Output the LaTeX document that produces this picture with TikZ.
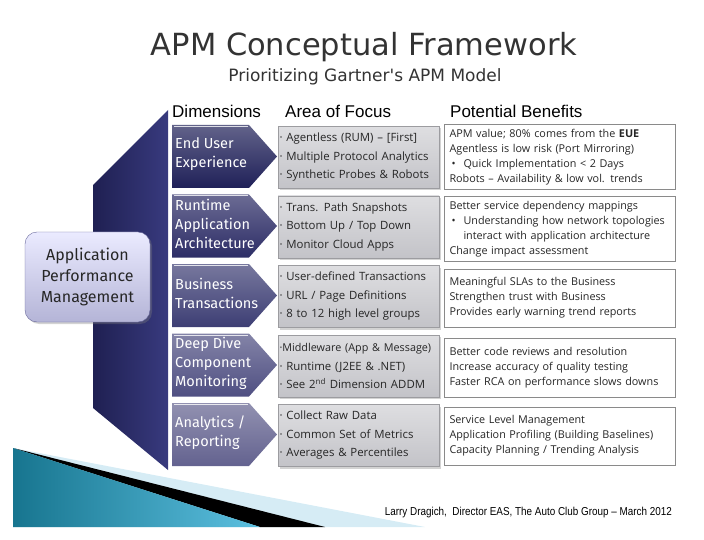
\documentclass[tikz,border=0pt]{standalone}
\usepackage{fontspec}
\setmainfont{Open Sans}
\newfontfamily\dimfont{Fira Sans}
\newfontfamily\headfont{Liberation Sans}
\newfontfamily\titlefont{DejaVu Sans}
\usetikzlibrary{shadows}

\definecolor{titlegray}{HTML}{333333}
\definecolor{bignavy}{HTML}{1F2052}
\definecolor{bignavyr}{HTML}{383A7E}
\definecolor{dimA}{HTML}{1F2058}
\definecolor{dimB}{HTML}{2C2D66}
\definecolor{dimC}{HTML}{3D3E74}
\definecolor{dimD}{HTML}{4F4F82}
\definecolor{dimE}{HTML}{63628F}
\definecolor{areagray}{HTML}{C3C3C8}
\definecolor{bengray}{HTML}{8A8A8A}
\definecolor{tealdark}{HTML}{17758F}
\definecolor{teallight}{HTML}{5CC0E0}
\definecolor{bandblue}{HTML}{D6ECF5}

\begin{document}
\begin{tikzpicture}[x=1pt, y=-1pt,
    dimtext/.style={anchor=west, inner sep=0pt, align=left, text=white,
      font=\dimfont\fontsize{14.5}{19}\selectfont},
    areabox/.style={draw=areagray!80!black, line width=0.4pt,
      top color=areagray!55!white, bottom color=areagray,
      drop shadow={shadow xshift=2pt, shadow yshift=-2pt, opacity=0.35},
      minimum width=161pt, minimum height=62pt, text width=158pt,
      inner sep=1.5pt, align=left, text=black!85,
      font=\fontsize{11.4}{18.5}\selectfont},
    benbox/.style={draw=bengray, line width=0.9pt, fill=white,
      minimum width=231pt, text width=221pt, inner sep=5pt,
      align=left, text=black!85, font=\fontsize{10.8}{15}\selectfont},
    header/.style={anchor=west, inner sep=0pt, font=\headfont\fontsize{17}{20}\selectfont}]
    \useasboundingbox (0,0) rectangle (704,540);

    % title
    \node[text=titlegray, font=\titlefont\fontsize{30.5}{32}\selectfont] (title) at (364,47) {APM Conceptual Framework};
    \node[text=titlegray, font=\titlefont\fontsize{17}{19}\selectfont] (subtitle) at (365,77) {Prioritizing Gartner's APM Model};

    % swoosh at the bottom left
    \fill[bandblue] (13,448) -- (425,527) -- (13,527) -- cycle;
    \fill[black] (13,448) -- (325,527) -- (260,527) -- cycle;
    \shade[left color=tealdark, right color=teallight] (13,448) -- (260,527) -- (13,527) -- cycle;

    % back plate of the dimensions
    \shade[left color=bignavy, right color=bignavyr] (168,110) -- (93,185) -- (93,408) -- (168,470) -- cycle;

    % headers
    \node[header] (hdim) at (172,111) {Dimensions};
    \node[header] (hfocus) at (285,111) {Area of Focus};
    \node[header] (hbenefit) at (450,111) {Potential Benefits};

    % APM box
    \node[draw=blue!20!gray, rounded corners=12pt, top color=blue!8!white, bottom color=blue!30!gray!45!white,
      drop shadow={shadow xshift=2pt, shadow yshift=-2pt, opacity=0.35},
      minimum width=125pt, minimum height=90pt, align=center, text=black!85,
      font=\dimfont\fontsize{16}{21}\selectfont] (apm) at (87.5,277) {Application\\Performance\\Management};

    % dimensions
    \shade[top color=dimA!70!white, bottom color=dimA] (172,125) -- (249,125) -- (277,156.5) -- (249,188) -- (172,188) -- cycle;
    \draw[white!85!dimA, line width=1pt] (174,126.5) -- (248,126.5);
    \node[dimtext] (dim1) at (175,154.5) {End User\\Experience};
    \shade[top color=dimB!70!white, bottom color=dimB] (172,194.5) -- (249,194.5) -- (277,226) -- (249,257.5) -- (172,257.5) -- cycle;
    \draw[white!85!dimB, line width=1pt] (174,196) -- (248,196);
    \node[dimtext] (dim2) at (175,224) {Runtime\\Application\\Architecture};
    \shade[top color=dimC!70!white, bottom color=dimC] (172,264) -- (249,264) -- (277,295.5) -- (249,327) -- (172,327) -- cycle;
    \draw[white!85!dimC, line width=1pt] (174,265.5) -- (248,265.5);
    \node[dimtext] (dim3) at (175,293.5) {Business\\Transactions};
    \shade[top color=dimD!70!white, bottom color=dimD] (172,333.5) -- (249,333.5) -- (277,365) -- (249,396.5) -- (172,396.5) -- cycle;
    \draw[white!85!dimD, line width=1pt] (174,335) -- (248,335);
    \node[dimtext] (dim4) at (175,363) {Deep Dive\\Component\\Monitoring};
    \shade[top color=dimE!70!white, bottom color=dimE] (172,403) -- (249,403) -- (277,434.5) -- (249,466) -- (172,466) -- cycle;
    \draw[white!85!dimE, line width=1pt] (174,404.5) -- (248,404.5);
    \node[dimtext] (dim5) at (175,432.5) {Analytics /\\Reporting};

    % areas of focus
    \node[areabox] (area1) at (358.5,157.5) {· Agentless (RUM) – [First]\\· Multiple Protocol Analytics\\· Synthetic Probes \& Robots};
    \node[areabox] (area2) at (358.5,227) {· Trans. Path Snapshots\\· Bottom Up / Top Down\\· Monitor Cloud Apps};
    \node[areabox] (area3) at (358.5,296.5) {· User-defined Transactions\\· URL / Page Definitions\\· 8 to 12 high level groups};
    \node[areabox] (area4) at (358.5,366) {\mbox{\fontsize{10.8}{18.5}\selectfont ·Middleware (App \& Message)}\\· Runtime (J2EE \& .NET)\\· See 2\textsuperscript{nd} Dimension ADDM};
    \node[areabox] (area5) at (358.5,435.5) {· Collect Raw Data\\· Common Set of Metrics\\· Averages \& Percentiles};

    % potential benefits
    \node[benbox, minimum height=64pt] (ben1) at (560,157) {APM value; 80\% comes from the \textbf{EUE}\\Agentless is low risk (Port Mirroring)\\\hspace*{2pt}•\hspace{8pt}Quick Implementation < 2 Days\\Robots – Availability \& low vol. trends};
    \node[benbox, minimum height=58pt] (ben2) at (560,229) {Better service dependency mappings\\\hspace*{2pt}•\hspace{8pt}Understanding how network topologies\\\hspace*{14pt}interact with application architecture\\Change impact assessment};
    \node[benbox, minimum height=58pt] (ben3) at (560,298) {Meaningful SLAs to the Business\\Strengthen trust with Business\\Provides early warning trend reports};
    \node[benbox, minimum height=59pt] (ben4) at (560,367.5) {Better code reviews and resolution\\Increase accuracy of quality testing\\Faster RCA on performance slows downs};
    \node[benbox, minimum height=58pt] (ben5) at (560,436) {Service Level Management\\Application Profiling (Building Baselines)\\Capacity Planning / Trending Analysis};

    % footer
    \node[anchor=east, inner sep=0pt, xscale=0.86, font=\headfont\fontsize{11.5}{13}\selectfont] (footer) at (672,513) {Larry Dragich,\ \ Director EAS, The Auto Club Group – March 2012};
\end{tikzpicture}
\end{document}
